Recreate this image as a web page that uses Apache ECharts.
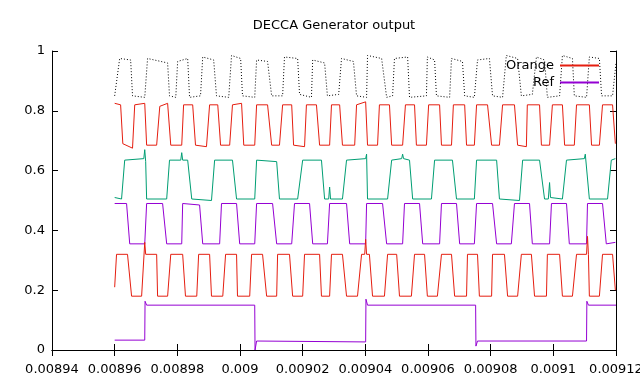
<!DOCTYPE html>
<html><head><meta charset="utf-8">
<script src="https://cdn.jsdelivr.net/npm/echarts@6/dist/echarts.min.js"></script>
<style>html,body{margin:0;padding:0;background:#fff}#c{width:640px;height:384px}</style>
</head><body><div id="c"></div>
<script>
const chartTitle = 'DECCA Generator output';
// time in microseconds, value in volts (normalised)
const blackPts = [[8960.0,0.850],[8961.6,0.975],[8965.1,0.970],[8965.7,0.850],[8969.6,0.845],[8970.5,0.975],[8976.9,0.960],[8977.5,0.850],[8979.5,0.845],[8980.1,0.965],[8983.3,0.975],[8983.9,0.845],[8987.4,0.850],[8988.1,0.980],[8991.6,0.970],[8992.5,0.850],[8996.4,0.845],[8997.3,0.985],[9000.2,0.975],[9000.8,0.850],[9004.7,0.845],[9005.3,0.970],[9008.8,0.965],[9010.1,0.850],[9013.6,0.850],[9014.2,0.980],[9018.4,0.975],[9019.0,0.855],[9022.8,0.845],[9023.2,0.970],[9027.0,0.960],[9027.9,0.850],[9031.5,0.855],[9032.4,0.975],[9036.2,0.965],[9037.2,0.850],[9040.4,0.845],[9040.7,0.985],[9045.2,0.975],[9046.8,0.845],[9048.7,0.850],[9049.3,0.975],[9053.5,0.980],[9054.1,0.845],[9059.5,0.850],[9059.8,0.980],[9062.1,0.970],[9062.7,0.850],[9066.9,0.845],[9067.5,0.975],[9071.0,0.965],[9071.7,0.850],[9074.8,0.845],[9075.8,0.970],[9079.6,0.975],[9080.6,0.850],[9083.8,0.845],[9085.0,0.985],[9088.6,0.975],[9089.8,0.850],[9093.3,0.855],[9094.6,0.980],[9097.2,0.970],[9098.1,0.845],[9102.0,0.850],[9102.9,0.985],[9106.1,0.975],[9106.7,0.850],[9110.6,0.845],[9111.5,0.980],[9114.7,0.975],[9115.4,0.850],[9118.9,0.850],[9120.0,0.960]];
const orangeTopPts = [[8960.0,0.825],[8961.9,0.820],[8962.6,0.690],[8965.7,0.675],[8966.4,0.820],[8969.6,0.825],[8970.2,0.685],[8973.4,0.685],[8974.4,0.815],[8976.9,0.825],[8977.9,0.685],[8981.4,0.685],[8982.0,0.820],[8984.9,0.820],[8985.8,0.685],[8989.3,0.680],[8990.3,0.820],[8992.9,0.820],[8993.8,0.685],[8996.7,0.685],[8997.6,0.820],[9000.5,0.825],[9001.2,0.685],[9004.7,0.685],[9005.3,0.820],[9008.8,0.820],[9010.1,0.685],[9012.6,0.685],[9013.6,0.820],[9016.5,0.820],[9017.1,0.685],[9020.6,0.680],[9021.2,0.820],[9024.4,0.820],[9025.4,0.685],[9028.6,0.685],[9029.2,0.820],[9031.8,0.820],[9032.7,0.685],[9036.6,0.685],[9037.2,0.820],[9040.1,0.830],[9040.7,0.685],[9043.9,0.685],[9044.5,0.820],[9047.7,0.820],[9048.4,0.685],[9051.9,0.685],[9052.8,0.820],[9055.7,0.820],[9056.3,0.685],[9059.5,0.685],[9060.2,0.820],[9063.7,0.820],[9064.3,0.685],[9067.5,0.685],[9068.1,0.820],[9071.7,0.820],[9072.3,0.685],[9074.8,0.685],[9075.5,0.820],[9079.0,0.820],[9080.3,0.685],[9082.8,0.685],[9083.8,0.820],[9087.6,0.820],[9088.6,0.685],[9091.4,0.680],[9091.7,0.820],[9095.6,0.820],[9096.2,0.685],[9098.8,0.685],[9099.7,0.820],[9102.9,0.820],[9103.6,0.685],[9106.7,0.685],[9107.4,0.820],[9111.5,0.820],[9112.2,0.685],[9114.7,0.685],[9115.7,0.820],[9118.9,0.820],[9119.8,0.690]];
const greenPts = [[8960.0,0.510],[8962.2,0.505],[8963.2,0.635],[8969.3,0.640],[8969.6,0.670],[8969.9,0.630],[8970.2,0.505],[8976.6,0.505],[8977.5,0.635],[8981.1,0.635],[8981.4,0.660],[8981.7,0.635],[8983.3,0.635],[8984.6,0.505],[8990.9,0.500],[8991.9,0.635],[8997.6,0.635],[8998.9,0.505],[9004.7,0.505],[9005.3,0.635],[9011.7,0.630],[9012.6,0.505],[9018.4,0.505],[9020.0,0.635],[9026.0,0.635],[9027.0,0.505],[9028.3,0.505],[9028.6,0.545],[9028.9,0.505],[9032.7,0.505],[9034.0,0.635],[9040.1,0.640],[9040.4,0.655],[9040.7,0.505],[9047.1,0.505],[9048.4,0.635],[9051.6,0.640],[9051.9,0.655],[9052.2,0.640],[9054.1,0.635],[9055.1,0.505],[9061.1,0.505],[9062.1,0.635],[9067.8,0.635],[9069.1,0.505],[9074.8,0.505],[9075.5,0.635],[9081.9,0.635],[9082.8,0.505],[9089.2,0.500],[9090.2,0.635],[9095.6,0.635],[9097.2,0.505],[9098.4,0.505],[9098.8,0.560],[9099.1,0.510],[9102.9,0.505],[9104.2,0.635],[9109.9,0.640],[9110.2,0.655],[9111.5,0.505],[9117.3,0.505],[9118.5,0.635],[9119.8,0.640]];
const purplePts = [[8960.0,0.490],[8963.8,0.490],[8964.8,0.355],[8969.6,0.355],[8970.2,0.490],[8975.3,0.490],[8976.6,0.355],[8981.4,0.355],[8981.7,0.490],[8987.1,0.485],[8988.1,0.355],[8993.5,0.355],[8994.1,0.490],[8998.9,0.490],[8999.9,0.355],[9004.7,0.355],[9005.3,0.490],[9010.4,0.490],[9011.7,0.355],[9016.5,0.355],[9017.4,0.490],[9022.2,0.490],[9023.2,0.355],[9027.9,0.355],[9028.6,0.490],[9034.0,0.490],[9035.0,0.355],[9040.1,0.355],[9040.4,0.490],[9045.5,0.490],[9046.8,0.355],[9051.9,0.355],[9052.5,0.490],[9057.3,0.490],[9058.3,0.355],[9063.7,0.355],[9064.3,0.490],[9069.1,0.490],[9070.1,0.355],[9074.8,0.355],[9075.5,0.490],[9080.6,0.490],[9081.9,0.355],[9086.6,0.355],[9087.6,0.490],[9092.4,0.490],[9093.3,0.355],[9098.8,0.355],[9099.4,0.490],[9104.2,0.490],[9105.1,0.355],[9110.6,0.355],[9110.9,0.490],[9115.7,0.490],[9116.9,0.355],[9119.8,0.360]];
const orangeLowPts = [[8960.0,0.210],[8960.6,0.320],[8964.1,0.320],[8965.4,0.180],[8968.6,0.180],[8969.6,0.360],[8969.9,0.320],[8973.4,0.320],[8973.7,0.180],[8976.9,0.180],[8977.9,0.320],[8981.7,0.320],[8982.6,0.180],[8986.2,0.180],[8986.8,0.320],[8990.3,0.320],[8990.9,0.180],[8994.5,0.180],[8995.4,0.320],[8998.9,0.320],[8999.2,0.180],[9003.1,0.180],[9003.7,0.320],[9007.2,0.320],[9008.5,0.180],[9011.7,0.180],[9012.0,0.320],[9015.8,0.320],[9016.8,0.180],[9020.0,0.180],[9020.6,0.320],[9025.4,0.320],[9026.0,0.180],[9028.6,0.180],[9029.2,0.320],[9032.7,0.320],[9034.0,0.180],[9037.5,0.180],[9038.8,0.320],[9039.8,0.320],[9040.1,0.370],[9040.4,0.320],[9041.3,0.320],[9042.3,0.180],[9046.1,0.180],[9047.1,0.320],[9050.0,0.320],[9050.9,0.180],[9054.7,0.180],[9055.7,0.320],[9058.9,0.320],[9059.8,0.180],[9063.0,0.180],[9064.3,0.320],[9067.5,0.320],[9068.5,0.180],[9072.3,0.180],[9072.6,0.320],[9075.8,0.320],[9076.4,0.180],[9080.3,0.180],[9080.6,0.320],[9084.4,0.320],[9085.4,0.180],[9088.6,0.180],[9089.8,0.320],[9093.0,0.320],[9094.0,0.180],[9097.8,0.180],[9098.1,0.320],[9102.0,0.320],[9102.9,0.180],[9106.1,0.180],[9107.4,0.320],[9110.6,0.320],[9110.9,0.380],[9111.2,0.320],[9111.5,0.180],[9114.7,0.180],[9115.7,0.320],[9118.9,0.320],[9119.8,0.200]];
const refPts = [[8960.0,0.033],[8969.6,0.033],[8969.7,0.163],[8970.2,0.150],[9004.7,0.150],[9004.8,0.000],[9005.3,0.030],[9040.1,0.027],[9040.2,0.170],[9040.7,0.150],[9075.2,0.150],[9075.3,0.013],[9075.8,0.030],[9110.6,0.030],[9110.7,0.163],[9111.2,0.150],[9120.0,0.150]];

const xMin = 8940, xMax = 9120, xStep = 20; // microseconds
const yMin = 0, yMax = 1, yStep = 0.2;

const RED = '#e51e10', PURPLE = '#9400d3';
const FONT = 'DejaVu Sans';
const chart = echarts.init(document.getElementById('c'), null, {renderer: 'canvas'});
const axisLine = {show: true, lineStyle: {color: '#000', width: 1}};
const tick = {show: true, inside: true, length: 6, lineStyle: {color: '#000', width: 1}};
const xFmt = v => String(+(v * 1e-6).toFixed(5));
const yFmt = v => String(+v.toFixed(1));
function line(name, pts, color, type) {
  return {name, type: 'line', data: pts, symbol: 'none', showSymbol: false,
    lineStyle: {color, width: 1, type: type || 'solid'}, itemStyle: {color, borderColor: color},
    animation: false, silent: true, z: 2};
}
function legendFor(name, top) {
  return {data: [name], right: 40, top, padding: 0, align: 'right', itemWidth: 39, itemHeight: 14,
    selectedMode: false, itemStyle: {opacity: 0, borderWidth: 0},
    textStyle: {fontFamily: FONT, fontSize: 13, color: '#000', padding: [0, 1, 0, 0]}};
}
chart.setOption({
  animation: false,
  backgroundColor: '#fff',
  title: {text: chartTitle, left: 334, top: 19, textAlign: 'center', padding: 0,
    textStyle: {fontFamily: FONT, fontSize: 13, fontWeight: 'normal', color: '#000'}},
  legend: [legendFor('Orange', 59), legendFor('Ref', 76)],
  grid: {left: 52, right: 24, top: 51, bottom: 34, containLabel: false, outerBoundsMode: 'none'},
  xAxis: [
    {type: 'value', min: xMin, max: xMax, interval: xStep, position: 'bottom', axisLine, axisTick: tick,
      splitLine: {show: false}, axisLabel: {formatter: xFmt, fontFamily: FONT, fontSize: 13, color: '#000', margin: 13, showMinLabel: true, showMaxLabel: true, hideOverlap: false}},
    {type: 'value', min: xMin, max: xMax, interval: xStep, position: 'top', axisLine, axisTick: tick,
      splitLine: {show: false}, axisLabel: {show: false}}
  ],
  yAxis: [
    {type: 'value', min: yMin, max: yMax, interval: yStep, position: 'left', axisLine, axisTick: tick,
      splitLine: {show: false}, axisLabel: {formatter: yFmt, fontFamily: FONT, fontSize: 13, color: '#000', margin: 7}},
    {type: 'value', min: yMin, max: yMax, interval: yStep, position: 'right', axisLine, axisTick: tick,
      splitLine: {show: false}, axisLabel: {show: false}}
  ],
  series: [
    line('Black', blackPts, '#000000', [1, 2]),
    line('Orange', orangeTopPts, RED),
    line('Green', greenPts, '#009e73'),
    line('Purple', purplePts, PURPLE),
    line('Orange low', orangeLowPts, RED),
    line('Ref', refPts, PURPLE)
  ]
});
</script></body></html>
